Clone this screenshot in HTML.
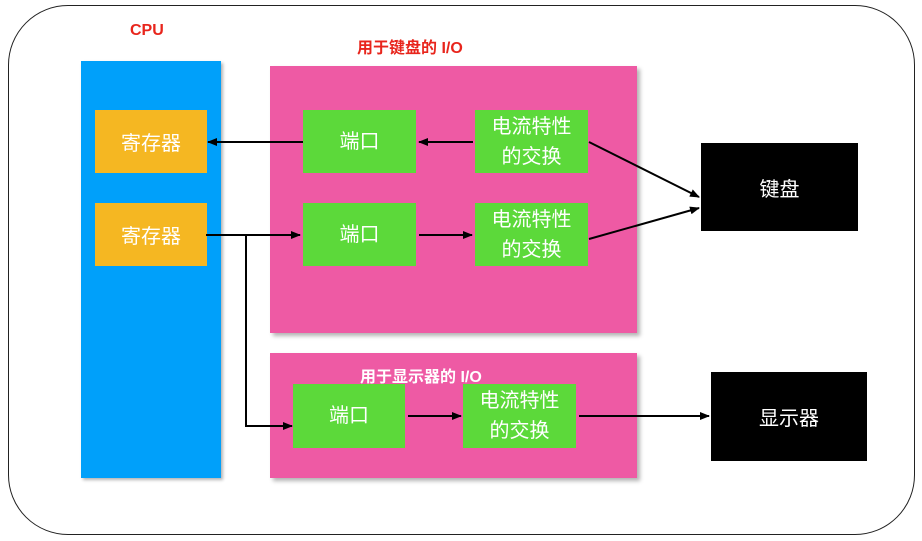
<!DOCTYPE html>
<html><head><meta charset="utf-8"><style>
body{margin:0;width:922px;height:541px;background:#fff;position:relative;overflow:hidden;font-family:"Liberation Sans","Noto Sans CJK SC",sans-serif}
.a{position:absolute;box-sizing:border-box}
.outer{left:8px;top:5px;width:907px;height:530px;border:1.5px solid #222;border-radius:60px}
.pink{background:#ee5aa4;box-shadow:3px 3px 4px rgba(0,0,0,.3)}
.g{background:#5cd93a;color:#fff;font-size:20px;display:flex;align-items:center;justify-content:center;text-align:center;line-height:30px}
.o{background:#f5b722;color:#fff;font-size:20px;display:flex;align-items:center;justify-content:center}
.k{background:#000;color:#fff;font-size:20px;display:flex;align-items:center;justify-content:center}
.t{font-weight:bold;font-size:16px}
</style></head><body>
<div class="a outer"></div>
<div class="a" style="left:81px;top:61px;width:140px;height:417px;background:#00a0fa;box-shadow:2px 2px 3px rgba(0,0,0,.3)"></div>
<div class="a t" style="left:130px;top:22px;color:#e8251c">CPU</div>
<div class="a pink" style="left:270px;top:66px;width:367px;height:267px"></div>
<div class="a t" style="left:357px;top:34px;color:#e8251c">用于键盘的 I/O</div>
<div class="a pink" style="left:270px;top:353px;width:367px;height:125px"></div>
<div class="a t" style="left:360px;top:363px;color:#fff">用于显示器的 I/O</div>
<div class="a o" style="left:95px;top:110px;width:112px;height:63px">寄存器</div>
<div class="a o" style="left:95px;top:203px;width:112px;height:63px">寄存器</div>
<div class="a g" style="left:303px;top:110px;width:113px;height:63px">端口</div>
<div class="a g" style="left:475px;top:110px;width:113px;height:63px">电流特性<br>的交换</div>
<div class="a g" style="left:303px;top:203px;width:113px;height:63px">端口</div>
<div class="a g" style="left:475px;top:203px;width:113px;height:63px">电流特性<br>的交换</div>
<div class="a g" style="left:293px;top:384px;width:112px;height:64px">端口</div>
<div class="a g" style="left:463px;top:384px;width:113px;height:64px">电流特性<br>的交换</div>
<div class="a k" style="left:701px;top:143px;width:157px;height:88px">键盘</div>
<div class="a k" style="left:711px;top:372px;width:156px;height:89px">显示器</div>
<svg class="a" style="left:0;top:0" width="922" height="541">
<defs><marker id="m" markerWidth="10" markerHeight="8" refX="9" refY="4" orient="auto" markerUnits="userSpaceOnUse"><path d="M0,0L10,4L0,8z" fill="#000"/></marker></defs>
<g stroke="#000" stroke-width="2" fill="none" marker-end="url(#m)">
<line x1="303" y1="142" x2="208" y2="142"/>
<line x1="473" y1="142" x2="419" y2="142"/>
<line x1="589" y1="142" x2="699" y2="197"/>
<line x1="589" y1="239" x2="699" y2="208"/>
<line x1="206" y1="235" x2="300" y2="235"/>
<line x1="419" y1="235" x2="472" y2="235"/>
<polyline points="246,235 246,426 292,426"/>
<line x1="408" y1="416" x2="461" y2="416"/>
<line x1="579" y1="416" x2="709" y2="416"/>
</g></svg>
</body></html>
